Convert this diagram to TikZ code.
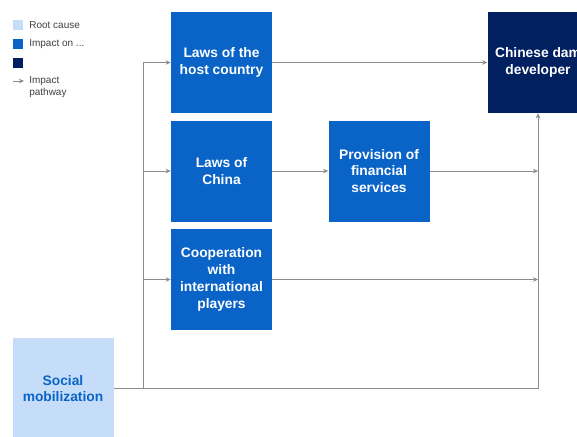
\documentclass[tikz,border=0pt]{standalone}
\usepackage{fontspec}
\setmainfont{Liberation Sans}
\usetikzlibrary{arrows.meta}
\definecolor{rootblue}{HTML}{C5DDF8}
\definecolor{impblue}{HTML}{0A64C8}
\definecolor{navy}{HTML}{002060}
\definecolor{pathgray}{HTML}{8C8C8C}
\tikzstyle{bx}=[shape=rectangle,
                minimum height=101pt,
                minimum width=101pt,
                inner sep=2pt,
                align=center,
                font=\fontsize{13.8}{16.8}\selectfont\bfseries]
\tikzstyle{ib}=[bx, fill=impblue, text=white]
\tikzstyle{lg}=[shape=rectangle, minimum size=10pt, inner sep=0pt]
\tikzstyle{lt}=[anchor=west, align=left, inner sep=0pt,
                font=\fontsize{10}{12}\selectfont, text=black!75]

\begin{document}
\begin{tikzpicture}[x=1pt,y=-1pt,>={Stealth[length=5pt,width=4.5pt]},pathgray,semithick]
\useasboundingbox (0,0) rectangle (577,436);
\clip (0,0) rectangle (577,436);

% legend
\node[lg,fill=rootblue] (l1) at (18,25) {};
\node[lg,fill=impblue]  (l2) at (18,44) {};
\node[lg,fill=navy]     (l3) at (18,63) {};
\node[lt] (t1) at (29,25) {Root cause};
\node[lt] (t2) at (29,44) {Impact on ...};
\node[lt] (t4) at (29,87) {Impact\\pathway};
\coordinate (a1) at (13,81);
\coordinate (a2) at (24,81);
\draw[->] (a1) -- (a2);

% boxes
\node[ib] (hc) at (221.5,62.5)  {Laws of the\\host country};
\node[ib] (lc) at (221.5,171)   {Laws of\\China};
\node[ib] (ci) at (221.5,279.5) {Cooperation\\with\\international\\players};
\node[ib] (fs) at (379,171)     {Provision of\\financial\\services};
\node[bx,fill=navy,text=white] (dd) at (538,62.5) {Chinese dam\\developer};
\node[bx,fill=rootblue,text=impblue] (sm) at (63,388.5) {Social\\mobilization};

% pathways
\coordinate (j) at (143,388);
\draw (sm.east |- j) -- (j);
\draw[->] (j) |- (hc.west);
\draw[->] (j) |- (lc.west);
\draw[->] (j) |- (ci.west);
\draw[->] (j) -| (dd.south);
\draw[->] (hc.east) -- (dd.west);
\draw[->] (lc.east) -- (fs.west);
\draw[->] (fs.east) -- (fs.east -| dd.south);
\draw[->] (ci.east) -- (ci.east -| dd.south);

\end{tikzpicture}
\end{document}
